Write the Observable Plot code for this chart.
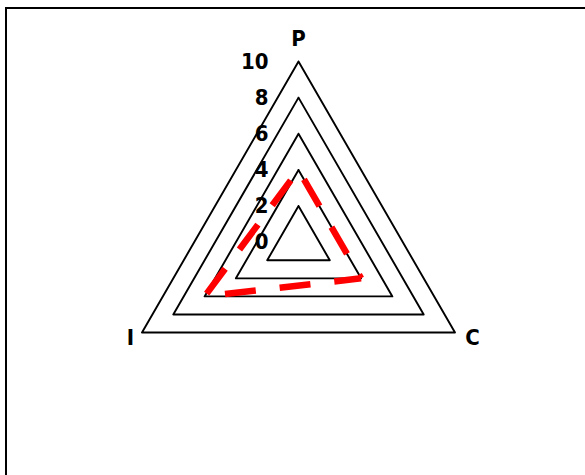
<!DOCTYPE html>
<html>
<head>
<meta charset="utf-8">
<script src="https://cdn.jsdelivr.net/npm/d3@7"></script>
<script src="https://cdn.jsdelivr.net/npm/@observablehq/plot@0.6"></script>
<style>
  html, body { margin: 0; padding: 0; overflow: hidden; background: #fff; }
  #frame { position: absolute; left: 5px; top: 7px; width: 640px; height: 520px; border: 2px solid #000; box-sizing: border-box; }
  #chart { position: absolute; left: 0; top: 0; }
</style>
</head>
<body>
<div id="frame"></div>
<div id="chart"></div>
<script>
// Axes (spokes) of the triangular radar chart
const axisNames = ["P", "I", "C"];
const axisAngles = [90, 210, 330];          // degrees, P at top, I bottom-left, C bottom-right
// Grid levels and radial tick labels
const gridLevels = [2, 4, 6, 8, 10];
const tickValues = [0, 2, 4, 6, 8, 10];
const tickLabels = ["0", "2", "4", "6", "8", "10"];
// Series values (P, I, C)
const seriesValues = [4, 6, 4];

const deg = Math.PI / 180;
const pt = (i, r) => ({ x: r * Math.cos(axisAngles[i] * deg), y: r * Math.sin(axisAngles[i] * deg) });

const grid = gridLevels.flatMap(L => [0, 1, 2, 0].map(i => ({ ...pt(i, L), level: L })));
const series = [2, 1, 0, 2].map(i => pt(i, seriesValues[i]));
const axisLabelData = axisNames.map((n, i) => ({ ...pt(i, 11), name: n }));
const tickData = tickValues.map((v, k) => ({ x: 0, y: v, label: tickLabels[k] }));

const cx = 298, cy = 241.7, unit = 18.07, W = 585, H = 475;
const font = "'Liberation Sans Narrow', 'DejaVu Sans Condensed', 'DejaVu Sans', sans-serif";

const chart = Plot.plot({
  width: W,
  height: H,
  margin: 0,
  x: { domain: [-cx / unit, (W - cx) / unit], range: [0, W], axis: null },
  y: { domain: [(cy - H) / unit, cy / unit], range: [H, 0], axis: null },
  style: { fontFamily: font, background: "transparent", color: "#000" },
  marks: [
    Plot.line(grid, { x: "x", y: "y", z: "level", stroke: "#000", strokeWidth: 1.9 }),
    Plot.line(series, {
      x: "x", y: "y", stroke: "#ff0000", strokeWidth: 6.5,
      strokeDasharray: "31,24", strokeDashoffset: 4,
      strokeLinejoin: "round", strokeLinecap: "butt"
    }),
    Plot.text(tickData, {
      x: "x", y: "y", text: "label", dx: -30, textAnchor: "end",
      fontSize: 22, fontWeight: "bold", fill: "#000"
    }),
    Plot.text(axisLabelData.filter(d => d.name === "P"), {
      x: "x", y: "y", text: "name", dy: -4,
      fontSize: 22, fontWeight: "bold", fill: "#000"
    }),
    Plot.text(axisLabelData.filter(d => d.name === "I"), {
      x: "x", y: "y", text: "name", dx: 4, dy: -4,
      fontSize: 22, fontWeight: "bold", fill: "#000"
    }),
    Plot.text(axisLabelData.filter(d => d.name === "C"), {
      x: "x", y: "y", text: "name", dx: 2, dy: -4,
      fontSize: 22, fontWeight: "bold", fill: "#000"
    })
  ]
});
document.getElementById("chart").appendChild(chart);
</script>
</body>
</html>
